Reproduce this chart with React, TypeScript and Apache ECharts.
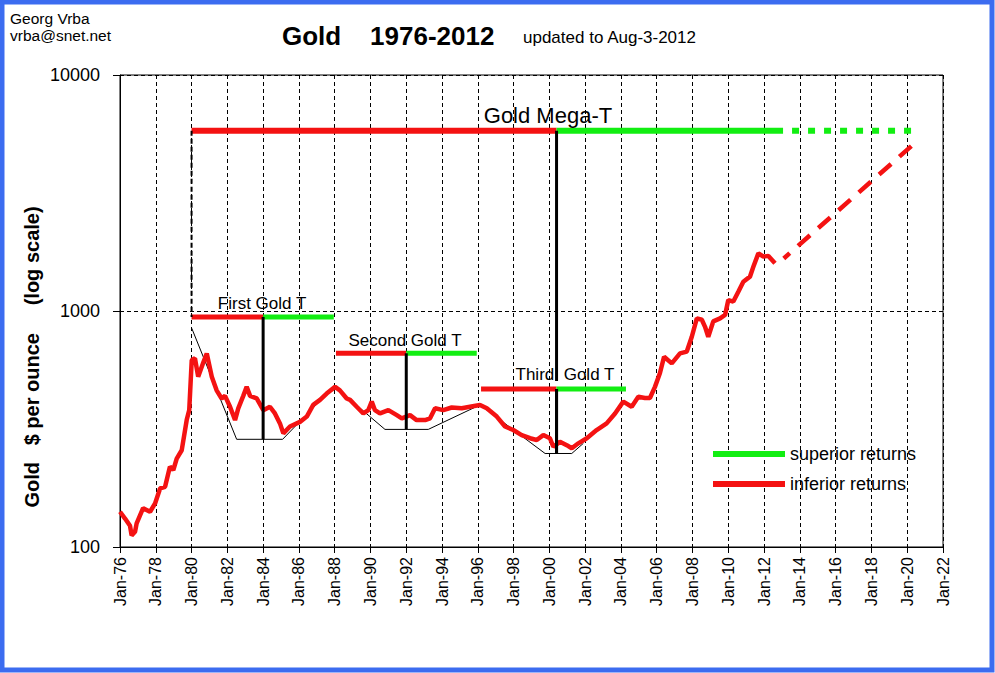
import React, { useEffect, useRef } from "react";
import * as echarts from "echarts";

// ---- Data ----
const goldYears = [
  1976.0, 1976.28, 1976.56, 1976.65, 1976.84, 1976.93, 1977.29, 1977.68, 1977.96, 1978.24,
  1978.52, 1978.79, 1978.98, 1979.17, 1979.45, 1979.73, 1979.87, 1980.01, 1980.19, 1980.37,
  1980.66, 1980.85, 1981.13, 1981.4, 1981.68, 1981.87, 1982.15, 1982.43, 1982.61, 1982.89,
  1983.08, 1983.27, 1983.64, 1984.01, 1984.38, 1984.66, 1984.94, 1985.13, 1985.5, 1986.06,
  1986.44, 1986.8, 1987.18, 1987.55, 1988.02, 1988.29, 1988.67, 1988.86, 1989.23, 1989.6,
  1989.88, 1990.07, 1990.25, 1990.53, 1991.0, 1991.47, 1991.75, 1992.21, 1992.58, 1993.05,
  1993.33, 1993.61, 1994.07, 1994.54, 1995.1, 1995.56, 1996.12, 1996.5, 1997.06, 1997.52,
  1997.98, 1998.45, 1998.92, 1999.29, 1999.66, 2000.03, 2000.22, 2000.59, 2000.97, 2001.25,
  2001.62, 2002.09, 2002.64, 2003.2, 2003.67, 2004.13, 2004.6, 2004.97, 2005.34, 2005.62,
  2005.9, 2006.18, 2006.41, 2006.84, 2007.3, 2007.68, 2007.96, 2008.24, 2008.52, 2008.7,
  2008.88, 2009.16, 2009.54, 2009.82, 2010.0, 2010.28, 2010.56, 2010.84, 2011.21, 2011.4,
  2011.68, 2011.96, 2012.24, 2012.61,
];
const goldPrices = [
  141, 132, 123, 112, 116, 126, 146, 141, 153, 177,
  180, 219, 212, 237, 257, 346, 380, 620, 630, 527,
  606, 661, 527, 461, 426, 437, 393, 345, 387, 437,
  477, 437, 426, 380, 393, 368, 334, 303, 324, 339,
  357, 400, 420, 447, 477, 461, 426, 420, 393, 368,
  380, 413, 380, 368, 380, 362, 351, 362, 345, 345,
  351, 387, 380, 390, 387, 393, 400, 387, 357, 324,
  313, 298, 289, 284, 298, 289, 266, 279, 270, 262,
  275, 289, 313, 334, 368, 413, 393, 433, 428, 428,
  477, 546, 640, 600, 661, 673, 778, 931, 918, 857,
  778, 904, 931, 962, 1113, 1096, 1207, 1331, 1398, 1540,
  1755, 1700, 1712, 1592,
];

// Projection of the gold price (dashed)
const projectionYears = [2013.1, 2020.3];
const projectionPrices = [1670, 5050];

// Gold "T" levels: [start, middle, end] years and price level
const tNames = ["Gold Mega-T", "First Gold T", "Second Gold T", "Third\u00a0\u00a0Gold T"];
const tStart = [1980.0, 1980.0, 1988.07, 1996.18];
const tMid = [2000.4, 1984.0, 1992.0, 2000.4];
const tEnd = [2013.06, 1987.95, 1995.94, 2004.28];
const tLevel = [5800, 943, 662, 467];
// bottom of each T's vertical stem
const tStemBottom = [505, 286, 315, 249];
// Mega-T dotted extension end
const megaDottedEnd = 2020.33;
// Label anchors (year, price) for the T names
const tLabelYears = [1999.92, 1983.94, 1991.93, 2000.87];
const tLabelPrices = [6768, 1071, 753, 536];

// Thin trough outlines (year, price)
const trough1Years = [1980.01, 1982.52, 1985.09, 1987.92];
const trough1Prices = [845, 286, 286, 477];
const trough2Years = [1988.02, 1990.81, 1993.23, 1996.12];
const trough2Prices = [477, 315, 315, 400];
const trough3Years = [1996.12, 1999.76, 2001.25, 2001.9];
const trough3Prices = [400, 249, 249, 275];

const xTickLabels = { prefix: "Jan-" };
const legendNames = ["superior returns", "inferior returns"];

const FONT = 'Arial, "Liberation Sans", sans-serif';
const RED = "#f41212";
const GREEN = "#12ee12";

const zip = (xs: number[], ys: number[]) => xs.map((x, i) => [x, ys[i]]);

export default function App() {
  const ref = useRef<HTMLDivElement>(null);

  useEffect(() => {
    if (!ref.current) return;
    const chart = echarts.init(ref.current, undefined, { renderer: "svg" });

    const series: any[] = [];

    // thin trough outlines
    [zip(trough1Years, trough1Prices), zip(trough2Years, trough2Prices), zip(trough3Years, trough3Prices)].forEach((d) => {
      series.push({
        type: "line",
        name: "trough",
        data: d,
        symbol: "none",
        lineStyle: { color: "#000", width: 1 },
        z: 2,
      });
    });

    // gold price
    series.push({
      type: "line",
      name: "Gold",
      data: zip(goldYears, goldPrices),
      symbol: "none",
      color: RED,
      lineStyle: { color: RED, width: 4.5 },
      z: 3,
    });
    // projection
    series.push({
      type: "line",
      name: "Projection",
      data: zip(projectionYears, projectionPrices),
      symbol: "none",
      color: RED,
      lineStyle: { color: RED, width: 4.5, type: [16, 11], dashOffset: 8 },
      z: 3,
    });

    // T bars
    for (let i = 0; i < tNames.length; i++) {
      const w = i === 0 ? 6 : 5;
      series.push({
        type: "line",
        name: legendNames[1],
        data: [[tStart[i], tLevel[i]], [tMid[i], tLevel[i]]],
        symbol: "none",
        color: RED,
        lineStyle: { color: RED, width: w, cap: "butt" },
        z: 4,
      });
      series.push({
        type: "line",
        name: legendNames[0],
        data: [[tMid[i], tLevel[i]], [tEnd[i], tLevel[i]]],
        symbol: "none",
        color: GREEN,
        lineStyle: { color: GREEN, width: w, cap: "butt" },
        z: 4,
      });
      // stem
      series.push({
        type: "line",
        name: "stem",
        data: [[tMid[i], tLevel[i]], [tMid[i], tStemBottom[i]]],
        symbol: "none",
        lineStyle: { color: "#000", width: 3, cap: "butt" },
        z: 5,
      });
    }
    // mega-T lower stem segment (from Third T bar down)
    series.push({
      type: "line",
      name: "stem",
      data: [[tMid[0], tLevel[3]], [tMid[0], tStemBottom[3]]],
      symbol: "none",
      lineStyle: { color: "#000", width: 3, cap: "butt" },
      z: 5,
    });
    // mega-T dotted extension
    series.push({
      type: "line",
      name: "extension",
      data: [[tEnd[0], tLevel[0]], [megaDottedEnd, tLevel[0]]],
      symbol: "none",
      lineStyle: { color: GREEN, width: 6, type: [7, 9], dashOffset: 7, cap: "butt" },
      z: 4,
    });
    // dashed connector from Mega-T start down to First Gold T
    series.push({
      type: "line",
      name: "connector",
      data: [[tStart[0], tLevel[0]], [tStart[1], tLevel[1]]],
      symbol: "none",
      lineStyle: { color: "#000", width: 2, type: [5, 3] },
      z: 5,
    });
    // T labels
    series.push({
      type: "scatter",
      name: "labels",
      symbolSize: 0,
      itemStyle: { opacity: 1 },
      data: tNames.map((n, i) => ({
        value: [tLabelYears[i], tLabelPrices[i]],
        label: {
          show: true,
          position: "inside",
          formatter: n,
          fontSize: i === 0 ? 22 : 17,
          fontFamily: FONT,
          color: "#000",
          opacity: 1,
          textBorderWidth: 0,
        },
      })),
      z: 6,
      silent: true,
    });

    chart.setOption({
      animation: false,
      backgroundColor: "#fff",
      title: [
        {
          text: "Georg Vrba\nvrba@snet.net",
          left: 10,
          top: 10,
          padding: 0,
          textStyle: { fontSize: 15.5, fontWeight: "normal", lineHeight: 17, fontFamily: FONT, color: "#000" },
        },
        {
          text: "Gold\u00a0\u00a0\u00a0\u00a01976-2012",
          left: 282,
          top: 23,
          padding: 0,
          textStyle: { fontSize: 26, fontWeight: "bold", fontFamily: FONT, color: "#000" },
        },
        {
          text: "updated to Aug-3-2012",
          left: 523,
          top: 29,
          padding: 0,
          textStyle: { fontSize: 17, fontWeight: "normal", fontFamily: FONT, color: "#000" },
        },
      ],
      legend: {
        data: legendNames.map((n) => ({ name: n, icon: "rect" })),
        orient: "vertical",
        left: 713,
        top: 444,
        padding: 0,
        itemWidth: 72,
        itemHeight: 6,
        itemGap: 10,
        selectedMode: false,
        textStyle: { fontSize: 18, fontFamily: FONT, color: "#000", lineHeight: 20 },
      },
      grid: {
        left: 120,
        top: 75,
        width: 823,
        height: 472,
        show: true,
        borderColor: "#000",
        borderWidth: 1,
        backgroundColor: "#fff",
      },
      xAxis: {
        type: "value",
        min: 1976,
        max: 2022,
        interval: 2,
        axisLine: { lineStyle: { color: "#000", width: 1 } },
        axisTick: { show: true, length: 6, lineStyle: { color: "#000" } },
        axisLabel: {
          rotate: 90,
          margin: 10,
          fontSize: 16,
          fontFamily: FONT,
          color: "#000",
          formatter: (v: number) => xTickLabels.prefix + String(Math.round(v) % 100).padStart(2, "0"),
        },
        splitLine: { show: true, lineStyle: { color: "#000", type: [4, 3], width: 1 } },
      },
      yAxis: {
        type: "log",
        logBase: 10,
        min: 100,
        max: 10000,
        axisLine: { show: true, lineStyle: { color: "#000", width: 1 } },
        axisTick: { show: true, length: 7, lineStyle: { color: "#000" } },
        axisLabel: {
          margin: 20,
          fontSize: 18,
          fontFamily: FONT,
          color: "#000",
          formatter: (v: number) => String(Math.round(v)),
        },
        splitLine: { show: true, lineStyle: { color: "#000", type: [4, 3], width: 1 } },
        minorTick: { show: false },
      },
      graphic: [
        {
          type: "rect",
          shape: { x: 2, y: 2, width: 990, height: 668 },
          style: { fill: "none", stroke: "#3c6cf0", lineWidth: 5 },
          silent: true,
          z: 100,
        },
        {
          type: "text",
          x: 32,
          y: 357,
          rotation: Math.PI / 2,
          style: {
            text: "Gold\u00a0\u00a0\u00a0$ per ounce\u00a0\u00a0\u00a0\u00a0\u00a0(log scale)",
            fontSize: 20,
            fontWeight: "bold",
            fontFamily: FONT,
            fill: "#000",
            align: "center",
            verticalAlign: "middle",
          },
        },
      ],
      series,
    });

    return () => chart.dispose();
  }, []);

  return (
    <div
      ref={ref}
      style={{ position: "fixed", left: 0, top: 0, width: 995, height: 673, background: "#fff" }}
    />
  );
}
